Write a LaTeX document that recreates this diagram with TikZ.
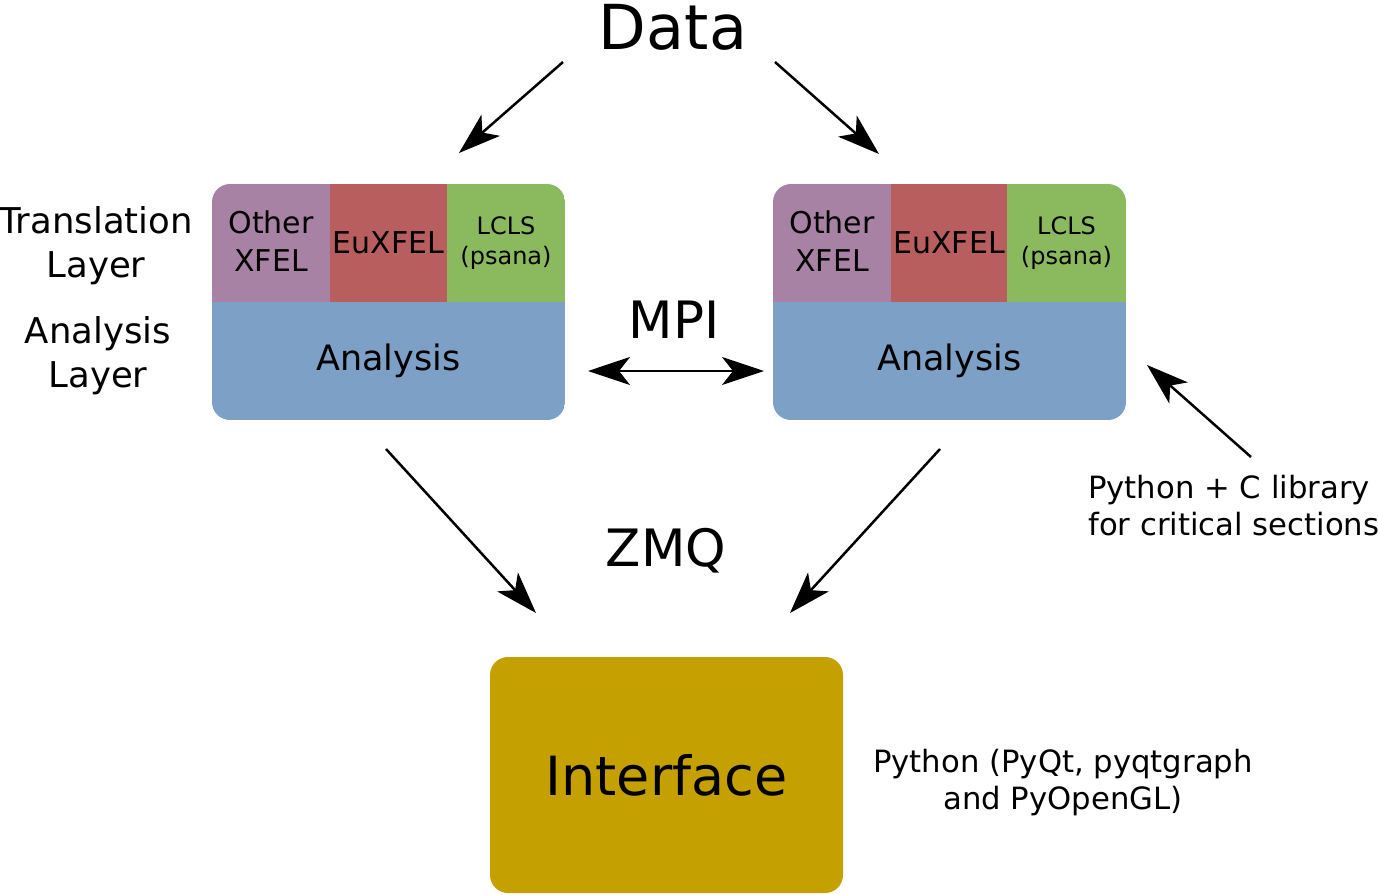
\documentclass[tikz,border=0pt]{standalone}
\usepackage{fontspec}
\setmainfont{DejaVu Sans}
\usetikzlibrary{arrows.meta}
\definecolor{cpurple}{HTML}{A882A4}
\definecolor{cred}{HTML}{B95E5E}
\definecolor{cgreen}{HTML}{8AB95E}
\definecolor{cblue}{HTML}{7DA0C7}
\definecolor{cgold}{HTML}{C4A000}
\tikzset{
  arr/.style={line width=2.5pt, -{Stealth[length=42pt,width=28pt,inset=11pt]}},
  darr/.style={line width=2.5pt, {Stealth[length=42pt,width=28pt,inset=11pt]}-{Stealth[length=42pt,width=28pt,inset=11pt]}},
  cell/.style={inner sep=0pt, outer sep=0pt, draw=none, align=center},
  big/.style={font=\fontsize{51.5}{60}\selectfont, inner sep=0pt},
  layer/.style={font=\fontsize{35.5}{44}\selectfont, align=center, inner sep=0pt},
  note/.style={font=\fontsize{30.7}{37}\selectfont, inner sep=0pt},
  ftop/.style={font=\fontsize{30}{38}\selectfont},
  fsmall/.style={font=\fontsize{24}{30}\selectfont},
  fana/.style={font=\fontsize{35}{44}\selectfont},
}
\begin{document}
\begin{tikzpicture}[x=1pt,y=-1pt]
\useasboundingbox (0,0) rectangle (1378,894);

% Data
\node[big, font=\fontsize{62}{64}\selectfont] (data) at (673,27) {Data};

% left box
\begin{scope}
\clip[rounded corners=18pt] (212,184) rectangle (565,420);
\node[cell, ftop, fill=cpurple, minimum width=118pt, minimum height=124pt] (lother) at (271,241) {Other\\XFEL};
\node[cell, ftop, fill=cred, minimum width=117pt, minimum height=120pt] (leu) at (388.5,243) {EuXFEL};
\node[cell, fsmall, fill=cgreen, minimum width=118pt, minimum height=120pt] (llcls) at (506,243) {LCLS\\(psana)};
\node[cell, fana, fill=cblue, minimum width=353pt, minimum height=118pt] (lana) at (388.5,361) {Analysis};
\end{scope}

% right box
\begin{scope}
\clip[rounded corners=18pt] (773,184) rectangle (1126,420);
\node[cell, ftop, fill=cpurple, minimum width=118pt, minimum height=124pt] (rother) at (832,241) {Other\\XFEL};
\node[cell, ftop, fill=cred, minimum width=116pt, minimum height=120pt] (reu) at (949,243) {EuXFEL};
\node[cell, fsmall, fill=cgreen, minimum width=119pt, minimum height=120pt] (rlcls) at (1066.5,243) {LCLS\\(psana)};
\node[cell, fana, fill=cblue, minimum width=353pt, minimum height=118pt] (rana) at (949.5,361) {Analysis};
\end{scope}

% layer labels
\node[layer] (trans) at (96,246) {Translation\\Layer};
\node[layer] (alay) at (98,356) {Analysis\\Layer};

% MPI and ZMQ
\node[big] (mpi) at (674,320) {MPI};
\node[big] (zmq) at (666,551) {ZMQ};

% Interface
\node[cell, fill=cgold, rounded corners=18pt, minimum width=353pt, minimum height=236pt, font=\fontsize{54}{60}\selectfont] (iface) at (666.5,775) {Interface};

% notes
\node[note, anchor=west, align=left] (pyc) at (1088,506) {Python + C library\\for critical sections};
\node[note, align=center] (pyqt) at (1063,783) {Python (PyQt, pyqtgraph\\and PyOpenGL)};

% arrow coordinates
\coordinate (d1s) at (563,62);
\coordinate (d1e) at (459,153);
\coordinate (d2s) at (775,62);
\coordinate (d2e) at (879,154);
\coordinate (m1) at (588,371);
\coordinate (m2) at (764,371);
\coordinate (z1s) at (386,449);
\coordinate (z1e) at (536,613);
\coordinate (z2s) at (940,449);
\coordinate (z2e) at (790,613);
\coordinate (ps) at (1251,457);
\coordinate (pe) at (1147,365);

\draw[arr] (d1s) -- (d1e);
\draw[arr] (d2s) -- (d2e);
\draw[darr] (m1) -- (m2);
\draw[arr] (z1s) -- (z1e);
\draw[arr] (z2s) -- (z2e);
\draw[arr] (ps) -- (pe);
\end{tikzpicture}
\end{document}
